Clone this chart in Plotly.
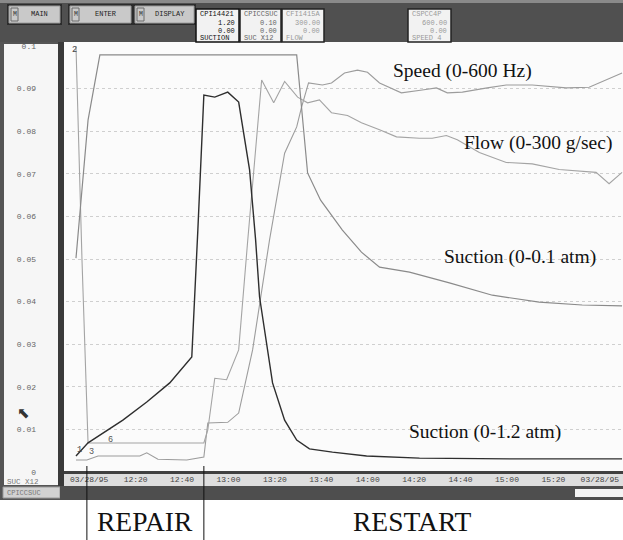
import plotly.graph_objects as go

DAY = "1995-03-28 "

# ---- data (engineering units) ----
suc12_t = ["11:54:18", "11:59:30", "12:14:30", "12:24:48", "12:34:42", "12:44:12", "12:46:48",
           "12:49:24", "12:54:06", "12:59:42", "13:04:24", "13:09:06", "13:11:42", "13:13:24",
           "13:19:00", "13:24:12", "13:29:24", "13:34:54", "13:44:48", "13:59:30", "14:22:18",
           "15:02:18", "15:49:36"]
suc12_v = [0.045, 0.082, 0.146, 0.197, 0.251, 0.324, 0.68,
           1.062, 1.056, 1.07, 1.042, 0.851, 0.654, 0.493,
           0.251, 0.146, 0.09, 0.065, 0.056, 0.045, 0.039,
           0.037, 0.037]

suc01_t = ["11:54:18", "11:59:30", "12:04:36", "13:29:24", "13:34:06", "13:39:42", "13:49:06",
           "13:57:18", "14:05:06", "14:18:00", "14:35:12", "14:53:42", "15:13:54", "15:32:24",
           "15:49:36"]
suc01_v = [0.0502, 0.0826, 0.0979, 0.0979, 0.0702, 0.0638, 0.0568,
           0.0516, 0.0481, 0.0469, 0.0444, 0.0415, 0.0399, 0.0392,
           0.0390]

flow_t = ["11:54:18", "11:56:54", "11:59:30", "12:49:24", "12:51:06", "12:54:06", "12:59:12",
          "13:04:24", "13:08:18", "13:14:18", "13:19:30", "13:24:12", "13:29:48", "13:34:06",
          "13:39:12", "13:44:24", "13:51:18", "13:57:18", "14:05:06", "14:12:24", "14:22:18",
          "14:27:48", "14:33:54", "14:38:36", "14:48:06", "14:59:42", "15:10:54", "15:22:30",
          "15:38:24", "15:44:00", "15:49:36"]
flow_v = [300, 149, 20.4, 20.4, 29.6, 66, 65,
          86, 163, 276, 260, 275, 264, 260,
          262, 253, 251, 246, 241, 236, 235,
          235, 237, 234, 225, 218, 217, 213,
          211, 203, 211]

speed_t = ["11:54:18", "11:59:00", "12:03:48", "12:21:48", "12:24:48", "12:29:36", "12:42:00",
           "12:49:24", "12:51:06", "12:59:42", "13:04:24", "13:10:24", "13:17:42", "13:24:12",
           "13:29:24", "13:31:30", "13:34:30", "13:40:30", "13:44:24", "13:50:00", "13:55:36",
           "13:59:54", "14:05:06", "14:14:30", "14:23:30", "14:29:36", "14:34:18", "14:40:48",
           "14:51:30", "14:59:42", "15:10:54", "15:25:30", "15:35:24", "15:49:36"]
speed_v = [17, 17, 22.5, 22.5, 27, 18, 17,
           21, 69, 70, 83, 172, 327, 449,
           486, 514, 548, 545, 548, 562, 566,
           563, 548, 534, 538, 541, 534, 535,
           541, 545, 545, 541, 542, 562]

# pen full-scale values (display axis is 0-0.1)
SCALE_SUC12 = 1.2
SCALE_SUC01 = 0.1
SCALE_FLOW = 300.0
SCALE_SPEED = 600.0

x_tickvals = ["12:00", "12:20", "12:40", "13:00", "13:20", "13:40", "14:00",
              "14:20", "14:40", "15:00", "15:20", "15:40"]
x_ticktext = ["03/28/95", "12:20", "12:40", "13:00", "13:20", "13:40", "14:00",
              "14:20", "14:40", "15:00", "15:20", "03/28/95"]
y_tickvals = [0, 0.01, 0.02, 0.03, 0.04, 0.05, 0.06, 0.07, 0.08, 0.09, 0.1]

events_t = ["11:59:00", "12:49:24"]
event_names = ["REPAIR", "RESTART"]

# ---- geometry helpers (pixel -> paper) ----
W, H = 623, 540
L, R, T, B = 66, 623, 46, 472


def PX(x):
    return (x - L) / (R - L)


def PY(y):
    return (B - y) / (B - T)


def ts(lst):
    return [DAY + t for t in lst]


def norm(vals, full):
    return [v / full * 0.1 for v in vals]


fig = go.Figure()
fig.add_trace(go.Scatter(x=ts(speed_t), y=norm(speed_v, SCALE_SPEED), mode="lines",
                         line=dict(color="#9c9c9c", width=1.1), name="Speed"))
fig.add_trace(go.Scatter(x=ts(flow_t), y=norm(flow_v, SCALE_FLOW), mode="lines",
                         line=dict(color="#a4a4a4", width=1.1), name="Flow"))
fig.add_trace(go.Scatter(x=ts(suc01_t), y=norm(suc01_v, SCALE_SUC01), mode="lines",
                         line=dict(color="#8a8a8a", width=1.2), name="Suction 0-0.1"))
fig.add_trace(go.Scatter(x=ts(suc12_t), y=norm(suc12_v, SCALE_SUC12), mode="lines",
                         line=dict(color="#2e2e2e", width=1.4), name="Suction 0-1.2"))

shapes = []
annotations = []


def rect(x0, y0, x1, y1, fill, line=None, lw=0, layer="below"):
    shapes.append(dict(type="rect", xref="paper", yref="paper",
                       x0=PX(x0), x1=PX(x1), y0=PY(y1), y1=PY(y0),
                       fillcolor=fill, layer=layer,
                       line=dict(color=line or fill, width=lw)))


def text(x, y, s, size=7.5, color="#333", xanchor="left", family="Liberation Mono, monospace"):
    annotations.append(dict(xref="paper", yref="paper", x=PX(x), y=PY(y), text=s,
                            showarrow=False, xanchor=xanchor, yanchor="middle",
                            font=dict(family=family, size=size, color=color)))


# plot area background
rect(64, 42, 623, 472, "#fbfbfb")

# header
rect(0, 0, 623, 42, "#505050")
rect(0, 0, 623, 3, "#8a8a8a")
for bx0, bx1, lab in [(9, 60, "MAIN"), (70, 131, "ENTER"), (135, 194, "DISPLAY")]:
    rect(bx0 - 2, 4, bx1 + 2, 25, "#2c2c2c")
    rect(bx0, 6, bx1, 23, "#c9c9c9", "#9a9a9a", 1)
    rect(bx0 + 2, 8, bx0 + 9, 21, "#c9c9c9", "#6a6a6a", 1)
    text(bx0 + 5.5, 14.5, "M", 6.5, "#333", "center")
    text((bx0 + 10 + bx1) / 2, 14.5, lab, 7, "#222", "center")

pens = [(196, 239, ["CPI14421", "1.20", "0.00", "SUCTION"], "#111", "#111"),
        (240, 281, ["CPICCSUC", "0.10", "0.00", "SUC X12"], "#666", "#222"),
        (282, 324, ["CFI1415A", "300.00", "0.00", "FLOW"], "#9a9a9a", "#222"),
        (408, 451, ["CSPCC4P", "600.00", "0.00", "SPEED 4"], "#9a9a9a", "#222")]
for px0, px1, lines, tc, bc in pens:
    rect(px0, 9, px1, 42, "#f2f2f2", bc, 1.5)
    text(px0 + 1.5, 14.5, lines[0], 7, tc, "left")
    text(px1 - 2, 22.5, lines[1], 7, tc, "right")
    text(px1 - 2, 30.5, lines[2], 7, tc, "right")
    text(px0 + 1.5, 38, lines[3], 7, tc, "left")

# left panel
rect(0, 42, 64, 500, "#555555")
rect(4, 44, 58, 485, "#f6f6f6")
rect(58, 42, 64, 486, "#3a3a3a")
text(5, 482, "SUC X12", 7.5, "#777", "left")
rect(3, 487, 60, 498, "#d2d2d2", "#999", 1)
text(5, 492.5, "CPICCSUC", 7, "#777", "left")

# x label band & bottom bar
rect(64, 472, 623, 486, "#dedede")
rect(64, 471, 623, 474, "#404040")
rect(60, 486, 623, 500, "#4e4e4e")
rect(575, 489, 623, 497, "#f4f4f4")

# pen number tags
text(70, 50, "2", 8.5, "#444", "left")
text(75, 450, "1", 8.5, "#444", "left")
text(87, 452, "3", 8.5, "#555", "left")
text(106, 440, "6", 8.5, "#555", "left")

# cursor arrow
text(23, 413, "\u2B09", 15, "#333", "center", "DejaVu Sans")

# series labels
serif = "Liberation Serif, Times New Roman, serif"
for s, x, y in [("Speed (0-600 Hz)", 462, 71), ("Flow (0-300 g/sec)", 538, 143),
                ("Suction (0-0.1 atm)", 520, 257), ("Suction (0-1.2 atm)", 485, 432)]:
    text(x, y, s, 19.5, "#111", "center", serif)

# event lines and labels
for et in events_t:
    shapes.append(dict(type="line", xref="x", yref="paper", x0=DAY + et, x1=DAY + et,
                       y0=PY(466), y1=PY(540), layer="above", line=dict(color="#111", width=1)))
text(145, 521, event_names[0], 27.5, "#111", "center", serif)
text(412, 521, event_names[1], 27.5, "#111", "center", serif)

fig.update_layout(
    width=W, height=H,
    margin=dict(l=L, r=W - R, t=T, b=H - B, autoexpand=False),
    paper_bgcolor="white", plot_bgcolor="rgba(0,0,0,0)",
    showlegend=False,
    shapes=shapes, annotations=annotations,
)
fig.update_xaxes(type="date", range=[DAY + "11:50", DAY + "15:50"], automargin=False,
                 tickvals=ts(x_tickvals), ticktext=x_ticktext, ticks="",
                 ticklabelstandoff=1, showgrid=False, zeroline=False, showline=False,
                 tickfont=dict(family="Liberation Mono, monospace", size=8, color="#444"))
fig.update_yaxes(range=[0, 0.1], tickvals=y_tickvals, ticks="", automargin=False,
                 ticklabelstandoff=29, showgrid=True, gridcolor="#cfcfcf", griddash="dot",
                 gridwidth=1, zeroline=False, showline=False,
                 tickfont=dict(family="Liberation Mono, monospace", size=8, color="#666"))

fig.write_html("out.html", config={"displayModeBar": False, "staticPlot": True},
               post_script="document.body.style.margin='0';document.body.style.overflow='hidden';")
